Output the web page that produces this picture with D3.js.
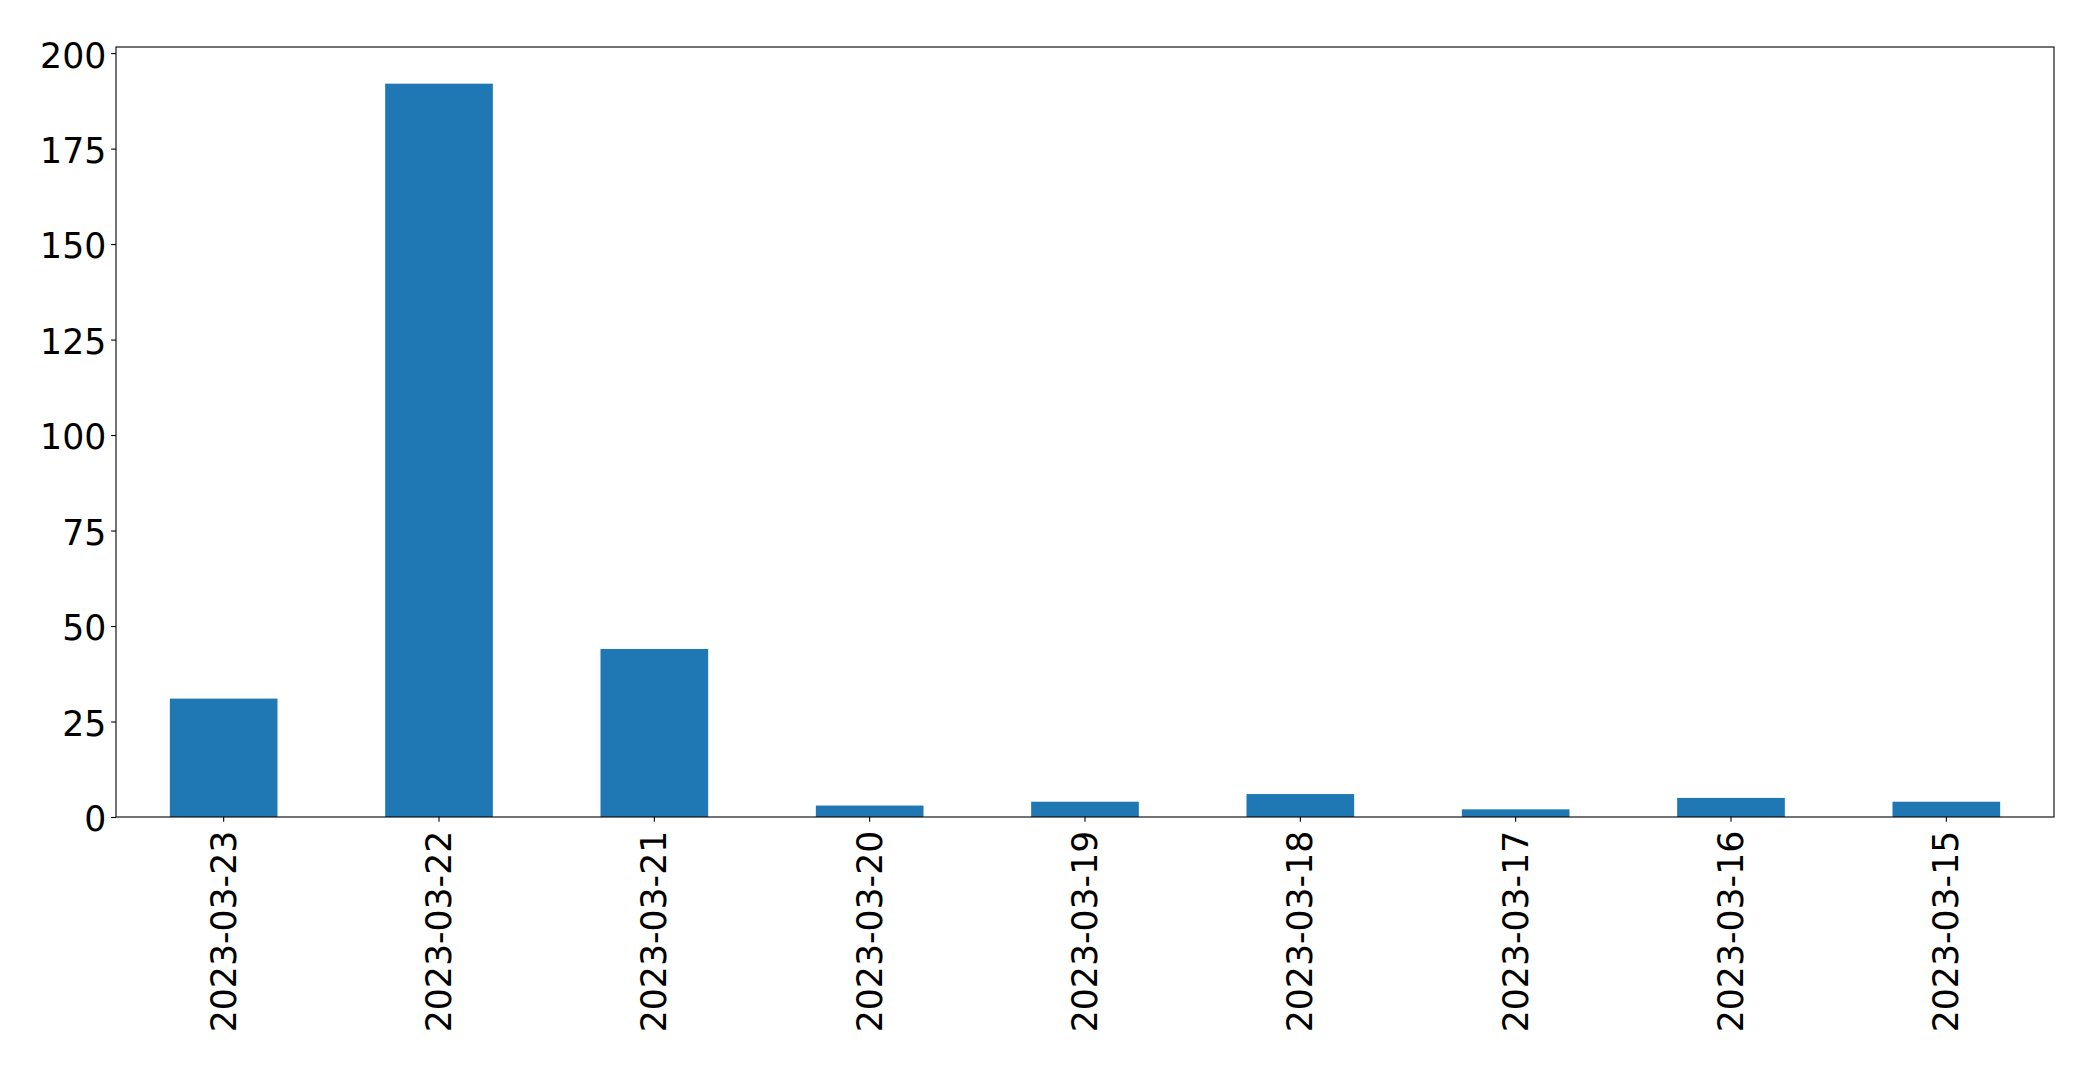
<!DOCTYPE html>
<html>
<head>
<meta charset="utf-8">
<script src="https://cdn.jsdelivr.net/npm/d3@7"></script>
<style>
html,body{margin:0;padding:0;background:#fff;}
svg{display:block;}
text{font-family:"DejaVu Sans",sans-serif;}
</style>
</head>
<body>
<svg id="chart" width="2093" height="1069"></svg>
<script>
const categories = ["2023-03-23","2023-03-22","2023-03-21","2023-03-20","2023-03-19","2023-03-18","2023-03-17","2023-03-16","2023-03-15"];
const values = [31, 192, 44, 3, 4, 6, 2, 5, 4];
const yTicks = [0, 25, 50, 75, 100, 125, 150, 175, 200];

const W = 2093, H = 1069;
const margin = {left: 116, top: 47, right: W - 2054, bottom: H - 817};
const pw = W - margin.left - margin.right;
const ph = H - margin.top - margin.bottom;
const fs = 34.7;
const tickLen = 4.86, pad = 4.86;

const svg = d3.select("#chart");
const g = svg.append("g").attr("transform", `translate(${margin.left},${margin.top})`);

const x = d3.scaleBand().domain(categories).range([0, pw]).paddingInner(0.5).paddingOuter(0.25);
const ymax = d3.max(values) * 1.05;
const y = d3.scaleLinear().domain([0, ymax]).range([ph, 0]);

g.selectAll("rect.bar").data(values).enter().append("rect")
  .attr("class","bar")
  .attr("x", (d,i) => x(categories[i]))
  .attr("width", x.bandwidth())
  .attr("y", d => y(d))
  .attr("height", d => ph - y(d))
  .attr("fill", "#1f77b4");

// Y axis
const yAxis = d3.axisLeft(y).tickValues(yTicks).tickSize(tickLen).tickPadding(pad).tickFormat(d3.format("d"));
const ya = g.append("g").call(yAxis);
ya.select(".domain").remove();
ya.selectAll("line").attr("stroke","#000").attr("stroke-width",1.1);
ya.selectAll("text").attr("font-size", fs).attr("fill","#000").attr("font-family","DejaVu Sans").attr("dy","0.4em");

// X axis
const xAxis = d3.axisBottom(x).tickSize(tickLen).tickPadding(pad);
const xa = g.append("g").attr("transform", `translate(0,${ph})`).call(xAxis);
xa.select(".domain").remove();
xa.selectAll("line").attr("stroke","#000").attr("stroke-width",1.1);
xa.selectAll("text")
  .attr("font-size", fs).attr("fill","#000").attr("font-family","DejaVu Sans")
  .attr("y", null).attr("dy", null)
  .attr("transform", `translate(0,${tickLen + pad + 4}) rotate(-90)`)
  .attr("x", 0)
  .attr("text-anchor","end")
  .attr("dominant-baseline","central");

// Frame
g.append("rect").attr("x",0).attr("y",0).attr("width",pw).attr("height",ph)
  .attr("fill","none").attr("stroke","#000").attr("stroke-width",1.1);
</script>
</body>
</html>
